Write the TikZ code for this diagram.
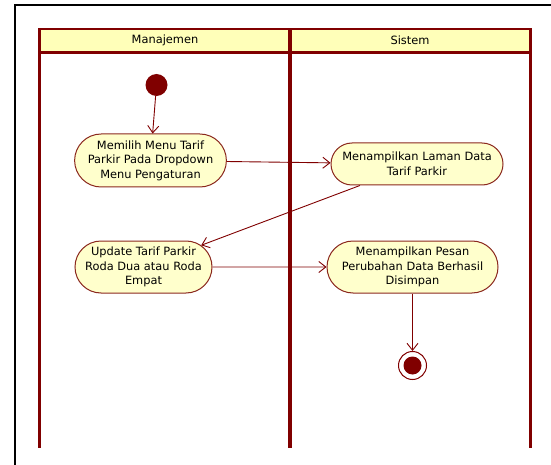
\documentclass[tikz,border=0pt]{standalone}
\usepackage{fontspec}
\setmainfont{DejaVu Sans}
\usetikzlibrary{arrows.meta,shapes.misc}
\definecolor{lane}{RGB}{128,0,0}
\definecolor{hdrfill}{RGB}{255,255,185}
\definecolor{actfill}{RGB}{255,255,204}
\definecolor{actline}{RGB}{139,40,30}
\tikzset{
  activity/.style={rounded rectangle, draw=actline, line width=1pt, fill=actfill,
    align=center, font=\fontsize{11.4}{14.5}\selectfont, inner xsep=4pt, inner ysep=2pt},
  flow/.style={draw=lane, line width=0.9pt, -{Straight Barb[length=7pt,width=11pt,line width=0.9pt]}},
  lanetitle/.style={font=\fontsize{11.4}{14}\selectfont}
}
\begin{document}
\begin{tikzpicture}[x=1pt,y=-1pt]
\useasboundingbox (0,0) rectangle (551,465);
\fill[white] (0,0) rectangle (551,465);
% outer frame (only top and left edges visible)
\draw[black, line width=2pt] (551,4.6) -- (14.7,4.6) -- (14.7,465);
% swimlane headers
\draw[lane, line width=2.4pt, fill=hdrfill] (39.6,28.8) rectangle (530.5,52.6);
\node[lanetitle] (h1) at (165,40.5) {Manajemen};
\node[lanetitle] (h2) at (410,40.5) {Sistem};
% lane separators
\draw[lane, line width=2.4pt] (39.6,28.8) -- (39.6,448.4);
\draw[lane, line width=2.4pt] (530.5,28.8) -- (530.5,448.4);
\draw[lane, line width=3.6pt] (290,28.8) -- (290,448.4);
% initial and final states
\node[circle, fill=lane, minimum size=22pt, inner sep=0pt] (init) at (156.5,85) {};
\node[circle, draw=lane, line width=1pt, fill=white, minimum size=28pt, inner sep=0pt] (fin) at (412.5,365.5) {};
\node[circle, fill=lane, minimum size=18pt, inner sep=0pt] (finc) at (fin.center) {};
% activities
\node[activity, minimum width=149pt, minimum height=53pt] (n1) at (150.5,160.5)
  {Memilih Menu Tarif\\Parkir Pada Dropdown\\Menu Pengaturan};
\node[activity, minimum width=180pt, minimum height=42pt] (n2) at (417,164)
  {Menampilkan Laman Data\\Tarif Parkir};
\node[activity, minimum width=145pt, minimum height=52pt] (n3) at (143.5,267)
  {Update Tarif Parkir\\Roda Dua atau Roda\\Empat};
\node[activity, minimum width=179pt, minimum height=52pt] (n4) at (412.5,267)
  {Menampilkan Pesan\\Perubahan Data Berhasil\\Disimpan};
% control flows
\draw[flow] (init) -- (n1);
\draw[flow] (n1) -- (n2);
\draw[flow] (n2) -- (n3);
\draw[flow] (n3) -- (n4);
\draw[flow] (n4) -- (fin);
\end{tikzpicture}
\end{document}
